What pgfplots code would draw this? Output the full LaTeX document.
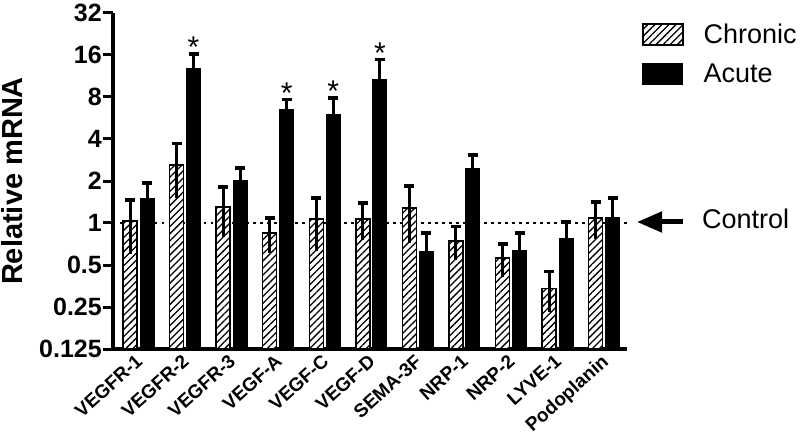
\documentclass[border=0pt]{standalone}
\usepackage{pgfplots}
\pgfplotsset{compat=1.18}
\usepackage{fontspec}
\setmainfont{Liberation Sans}
\usetikzlibrary{patterns.meta,arrows.meta}
\newcommand{\yt}[1]{{\fontsize{25}{25}\selectfont\bfseries #1}}
\newcommand{\xt}[1]{{\fontsize{19}{19}\selectfont\bfseries #1}}

\begin{document}
\begin{tikzpicture}[x=1pt,y=1pt]
\useasboundingbox (-113pt,-90pt) rectangle (687pt,349pt);
\begin{axis}[
  at={(0pt,0pt)}, anchor=south west,
  scale only axis, width=514pt, height=336pt,
  ymode=log, log basis y=2, log origin y=infty,
  ymin=0.125, ymax=32,
  xmin=-0.548, xmax=10.49,
  axis lines=left,
  axis line style={line width=4pt, -},
  ybar, bar width=14pt,
  ytick={0.125,0.25,0.5,1,2,4,8,16,32},
  yticklabels={\yt{0.125},\yt{0.25},\yt{0.5},\yt{1},\yt{2},\yt{4},\yt{8},\yt{16},\yt{32}},
  every y tick label/.append style={inner sep=1pt},
  tick align=outside,
  major tick length=10pt,
  ytick style={line width=3pt, black},
  xtick={0,...,10},
  xticklabels={\xt{VEGFR-1},\xt{VEGFR-2},\xt{VEGFR-3},\xt{VEGF-A},\xt{VEGF-C},\xt{VEGF-D},\xt{SEMA-3F},\xt{NRP-1},\xt{NRP-2},\xt{LYVE-1},\xt{Podoplanin}},
  xtick style={draw=none},
  every x tick label/.append style={rotate=42, anchor=north east, inner sep=0pt, xshift=1pt, yshift=7pt},
  ylabel={Relative mRNA},
  ylabel style={font=\bfseries\fontsize{29}{29}\selectfont, at={(axis description cs:-0.175,0.5)}, anchor=south, inner sep=0pt},
  clip=false,
  legend style={at={(axis description cs:1.0292,0.970)}, anchor=north west, draw=none, fill=none,
    font=\fontsize{27}{27}\selectfont, row sep=18pt, column sep=20pt, inner sep=0pt,
    nodes={inner sep=0pt}},
  legend cell align=left,
  legend image code/.code={\path[use as bounding box] (0pt,0pt) rectangle (40pt,10.5pt);
     \draw[#1] (0pt,-10.5pt) rectangle (40pt,10.5pt);},
  error bars/error bar style={line width=3pt, black},
]
\draw[line width=2.5pt, dash pattern=on 2.5pt off 4.5pt] (axis cs:-0.548,1) -- (axis cs:10.49,1);

% Chronic
\addplot[bar shift=-8.5pt, draw=black, line width=1.5pt,
  preaction={fill=white}, pattern={Lines[angle=45,distance=5pt,line width=1.3pt]},
  error bars/.cd, y dir=both, y explicit, error mark=none]
coordinates {
(0,1.03) +- (0,0.43)
(1,2.6) +- (0,1.1)
(2,1.3) +- (0,0.51)
(3,0.85) +- (0,0.24)
(4,1.07) +- (0,0.44)
(5,1.07) +- (0,0.32)
(6,1.28) +- (0,0.56)
(7,0.74) +- (0,0.20)
(8,0.56) +- (0,0.15)
(9,0.34) +- (0,0.11)
(10,1.09) +- (0,0.32)
};
\addlegendentry{Chronic}

% Acute
\addplot[bar shift=8.5pt, draw=black, line width=1pt, fill=black,
  error bars/.cd, y dir=plus, y explicit, error mark=-, error mark options={rotate=90, line width=3.5pt, mark size=5pt, black}]
coordinates {
(0,1.49) +- (0,0.44)
(1,12.7) +- (0,3.6)
(2,2.03) +- (0,0.45)
(3,6.56) +- (0,1.14)
(4,5.95) +- (0,1.91)
(5,10.6) +- (0,4.3)
(6,0.62) +- (0,0.23)
(7,2.44) +- (0,0.63)
(8,0.63) +- (0,0.22)
(9,0.77) +- (0,0.25)
(10,1.10) +- (0,0.41)
};
\addlegendentry{Acute}

% Chronic caps
\addplot[forget plot, bar shift=-8.5pt, draw=none, fill=none,
  error bars/.cd, y dir=plus, y explicit, error mark=-, error mark options={rotate=90, line width=3.5pt, mark size=5pt, black}]
coordinates {
(0,1.03) +- (0,0.43)
(1,2.6) +- (0,1.1)
(2,1.3) +- (0,0.51)
(3,0.85) +- (0,0.24)
(4,1.07) +- (0,0.44)
(5,1.07) +- (0,0.32)
(6,1.28) +- (0,0.56)
(7,0.74) +- (0,0.20)
(8,0.56) +- (0,0.15)
(9,0.34) +- (0,0.11)
(10,1.09) +- (0,0.32)
};

\node[anchor=south, inner sep=0pt, font=\fontsize{30}{30}\selectfont, xshift=8.5pt, yshift=-4pt] at (axis cs:1,16.3) {*};
\node[anchor=south, inner sep=0pt, font=\fontsize{30}{30}\selectfont, xshift=8.5pt, yshift=-4pt] at (axis cs:3,7.7) {*};
\node[anchor=south, inner sep=0pt, font=\fontsize{30}{30}\selectfont, xshift=8.5pt, yshift=-4pt] at (axis cs:4,7.86) {*};
\node[anchor=south, inner sep=0pt, font=\fontsize{30}{30}\selectfont, xshift=8.5pt, yshift=-4pt] at (axis cs:5,14.9) {*};
\end{axis}
\draw[line width=5pt, -{Triangle[length=25pt,width=20pt]}] (570pt,127pt) -- (524pt,127pt);
\node[anchor=base west, inner sep=0pt, font=\fontsize{27}{27}\selectfont] at (589pt,120pt) {Control};
\end{tikzpicture}
\end{document}
